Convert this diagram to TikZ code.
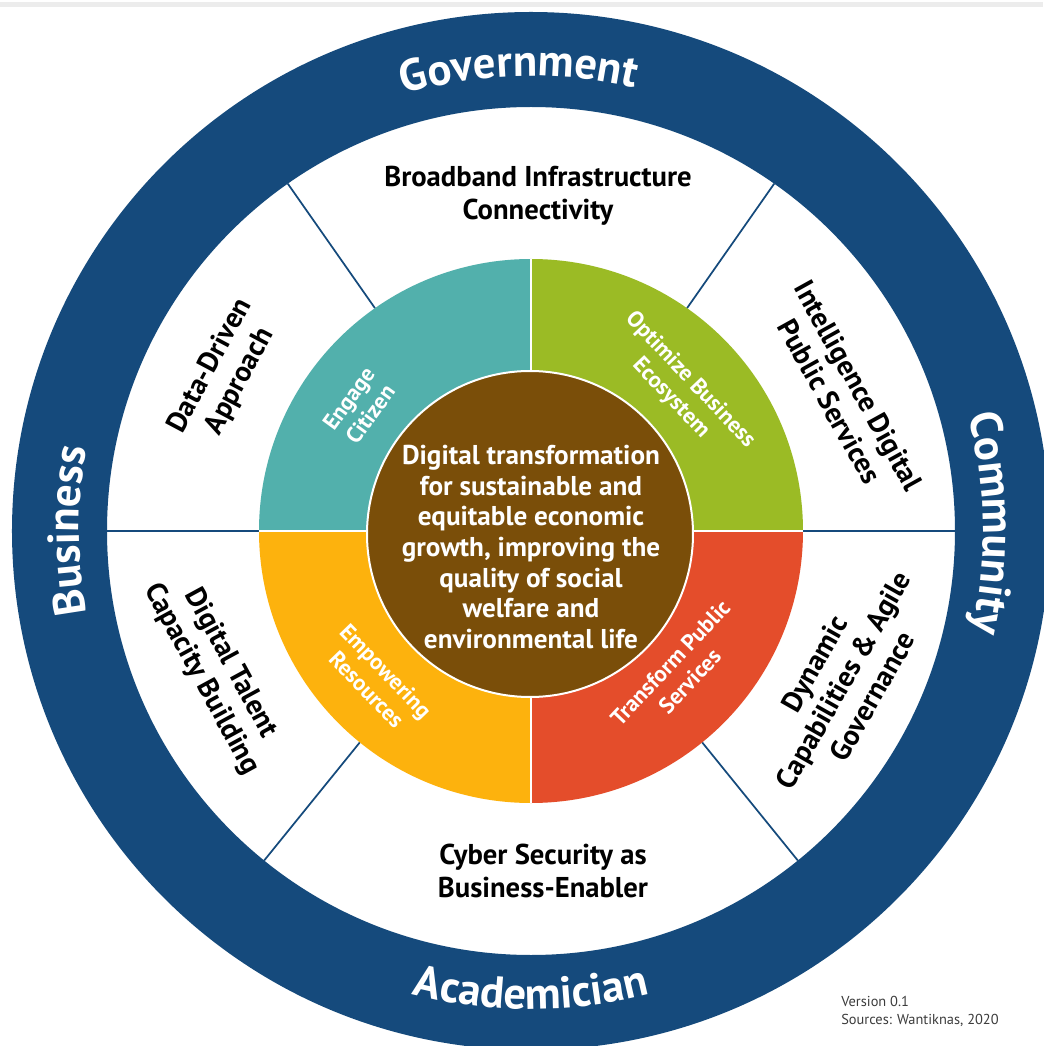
\documentclass[tikz,border=0pt]{standalone}
\usepackage{fontspec}
\setmainfont{PT Sans}
\usepackage{tikz}
\usetikzlibrary{decorations.text}

\definecolor{ringblue}{RGB}{21,74,124}
\definecolor{engageteal}{RGB}{82,176,172}
\definecolor{optimgreen}{RGB}{155,187,37}
\definecolor{empowerorange}{RGB}{253,178,13}
\definecolor{transformred}{RGB}{228,77,43}
\definecolor{corebrown}{RGB}{122,78,9}
\definecolor{topgray}{RGB}{236,236,236}
\definecolor{notegray}{RGB}{60,60,60}

\newcommand{\ringfont}{\fontsize{33.5}{33.5}\selectfont\bfseries}
\newcommand{\sectfont}{\fontsize{21.5}{25}\selectfont\bfseries}
\newcommand{\petalfont}{\fontsize{17}{20}\selectfont\bfseries}
\newcommand{\corefont}{\fontsize{20.4}{23}\selectfont\bfseries}

\begin{document}
\begin{tikzpicture}[x=0.75pt,y=0.75pt,
  sectlabel/.style={inner sep=0.75pt, align=center, font=\sectfont, text=black},
  petallabel/.style={inner sep=0.75pt, align=center, font=\petalfont, text=white},
  ringtext/.style={decorate, decoration={text along path, text align=center, text color=white}},
  divider/.style={draw=ringblue, line width=1.3}]
  %set diagram as 1043 x 1046, centre of the wheel at the origin
  \useasboundingbox (-531,531) rectangle (512,-515);
  \fill[white] (-531,531) rectangle (512,-515);
  \fill[topgray] (-531,529) rectangle (512,524);

  %Shape: Ring [outer band]
  \fill[ringblue, even odd rule] (0,0) circle [radius=519] (0,0) circle [radius=424];
  %Straight Lines [sector dividers]
  \foreach \a in {0,55,125,180,231,309}
    \draw[divider] (\a:272) -- (\a:424);

  %Shape: Quarter rings
  \fill[engageteal] (0,0) -- (-272,0) arc [start angle=180, end angle=90, radius=272] -- cycle;
  \fill[optimgreen] (0,0) -- (0,272) arc [start angle=90, end angle=0, radius=272] -- cycle;
  \fill[transformred] (0,0) -- (272,0) arc [start angle=0, end angle=-90, radius=272] -- cycle;
  \fill[empowerorange] (0,0) -- (0,-272) arc [start angle=-90, end angle=-180, radius=272] -- cycle;
  \draw[white, line width=2] (-272,0) -- (272,0) (0,-272) -- (0,272);
  %Shape: Circle [core]
  \filldraw[fill=corebrown, draw=white, line width=1.5] (-1,-3) circle [radius=163];

  % Ring labels
  \path[ringtext, decoration={text={|\ringfont|Government}}] (131.5:455) arc [start angle=131.5, end angle=51.5, radius=455];
  \path[ringtext, decoration={text={|\ringfont|Community}}] (41:452) arc [start angle=41, end angle=-39, radius=452];
  \path[ringtext, decoration={text={|\ringfont|Academician}}] (230:478) arc [start angle=230, end angle=310, radius=478];
  \path[ringtext, decoration={text={|\ringfont|Business}}] (220:452) arc [start angle=220, end angle=140, radius=452];

  % Text Node
  \node[sectlabel] (broadband) at (7,335) {Broadband Infrastructure\\Connectivity};
  % Text Node
  \node[sectlabel, rotate=-61] (intelligence) at (23.7:342) {Intelligence Digital\\Public Services};
  % Text Node
  \node[sectlabel, rotate=60.5] (dynamic) at (-25.5:346) {Dynamic\\Capabilities \& Agile\\Governance};
  % Text Node
  \node[sectlabel] (cyber) at (12,-340) {Cyber Security as\\Business-Enabler};
  % Text Node
  \node[sectlabel, rotate=-61.5] (talent) at (204:345) {Digital Talent\\Capacity Building};
  % Text Node
  \node[sectlabel, rotate=62] (datadriven) at (152.8:344) {Data-Driven\\Approach};

  % Text Node
  \node[petallabel, rotate=54] (engage) at (144:212) {Engage\\Citizen};
  % Text Node
  \node[petallabel, rotate=-46.5] (optimize) at (43.5:206) {Optimize Business\\Ecosystem};
  % Text Node
  \node[petallabel, rotate=46.6] (transform) at (-43.4:205) {Transform Public\\Services};
  % Text Node
  \node[petallabel, rotate=-46] (empower) at (224:215) {Empowering\\Resources};

  % Text Node
  \node[inner sep=0.75pt, align=center, font=\corefont, text=white] (core) at (0,-16) {Digital transformation\\for sustainable and\\equitable economic\\growth, improving the\\quality of social\\welfare and\\environmental life};

  % Text Node
  \node[anchor=north west, inner sep=0.75pt, align=left, font=\fontsize{10.8}{13.5}\selectfont, text=notegray] (version) at (309,-464) {Version 0.1\\Sources: Wantiknas, 2020};
\end{tikzpicture}
\end{document}
